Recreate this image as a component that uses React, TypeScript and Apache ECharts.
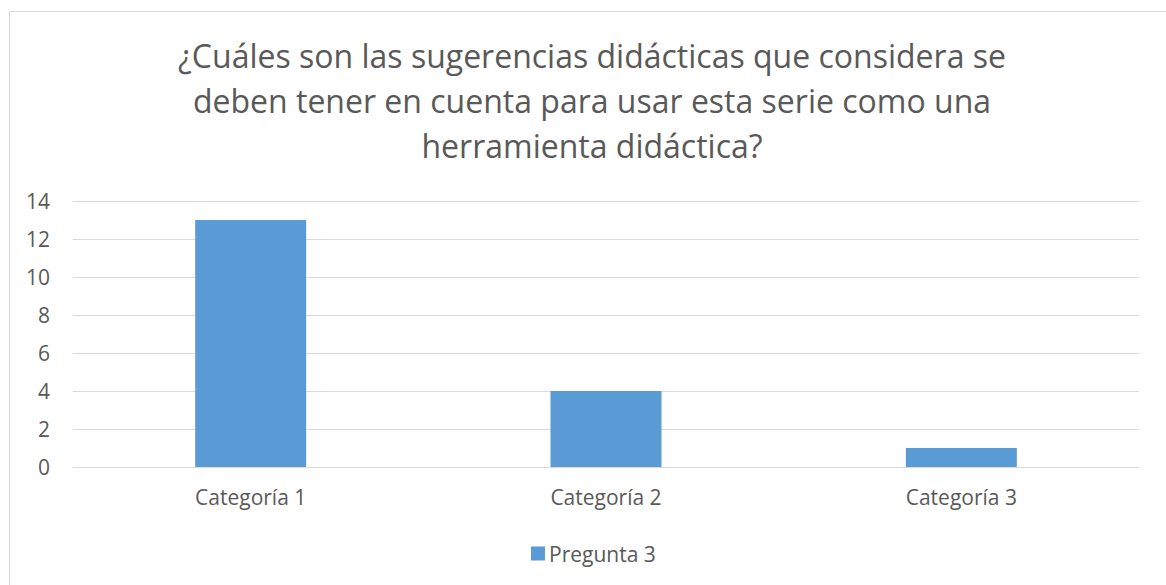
import React, { useEffect, useRef } from "react";
import * as echarts from "echarts";

const categories = ["Categoría 1", "Categoría 2", "Categoría 3"];
const seriesName = "Pregunta 3";
const values = [13, 4, 1];
const titleLines = [
  "¿Cuáles son las sugerencias didácticas que considera se",
  "deben tener en cuenta para usar esta serie como una",
  "herramienta didáctica?",
];

const FONT = "'Open Sans', 'Noto Sans', sans-serif";
const TEXT = "#595959";

export default function App() {
  const ref = useRef<HTMLDivElement>(null);
  useEffect(() => {
    if (!ref.current) return;
    const chart = echarts.init(ref.current, null, { renderer: "svg" });
    chart.setOption({
      animation: false,
      backgroundColor: "#ffffff",
      textStyle: { fontFamily: FONT },
      title: {
        text: titleLines.join("\n"),
        left: 587,
        top: 28,
        textAlign: "center",
        textStyle: {
          fontFamily: FONT,
          fontSize: 32,
          fontWeight: "normal",
          color: TEXT,
          lineHeight: 45,
        },
      },
      graphic: [
        {
          type: "rect",
          shape: { x: 9.5, y: 11.5, width: 1200, height: 620 },
          style: { fill: "none", stroke: "#d9d9d9", lineWidth: 1 },
          silent: true,
        },
      ],
      legend: {
        data: [seriesName],
        left: 526,
        top: 538,
        itemWidth: 14,
        itemHeight: 14,
        itemGap: 4,
        icon: "rect",
        textStyle: { fontFamily: FONT, fontSize: 21, color: TEXT, padding: [0, 0, 0, -1] },
      },
      grid: { left: 73, right: 27, top: 201, bottom: 118, containLabel: false },
      xAxis: {
        type: "category",
        data: categories,
        axisLine: { show: true, lineStyle: { color: "#d9d9d9", width: 1 } },
        axisTick: { show: false },
        axisLabel: { fontFamily: FONT, fontSize: 21, color: TEXT, margin: 19 },
      },
      yAxis: {
        type: "value",
        min: 0,
        max: 14,
        interval: 2,
        axisLine: { show: false },
        axisTick: { show: false },
        splitLine: { lineStyle: { color: "#d9d9d9", width: 1 } },
        axisLabel: { fontFamily: FONT, fontSize: 21, color: TEXT, margin: 23 },
      },
      series: [
        {
          name: seriesName,
          type: "bar",
          data: values,
          barWidth: 111,
          itemStyle: { color: "#5b9bd5" },
        },
      ],
    });
    return () => chart.dispose();
  }, []);
  return (
    <div
      ref={ref}
      style={{ position: "fixed", left: 0, top: 0, width: 1166, height: 585 }}
    />
  );
}
